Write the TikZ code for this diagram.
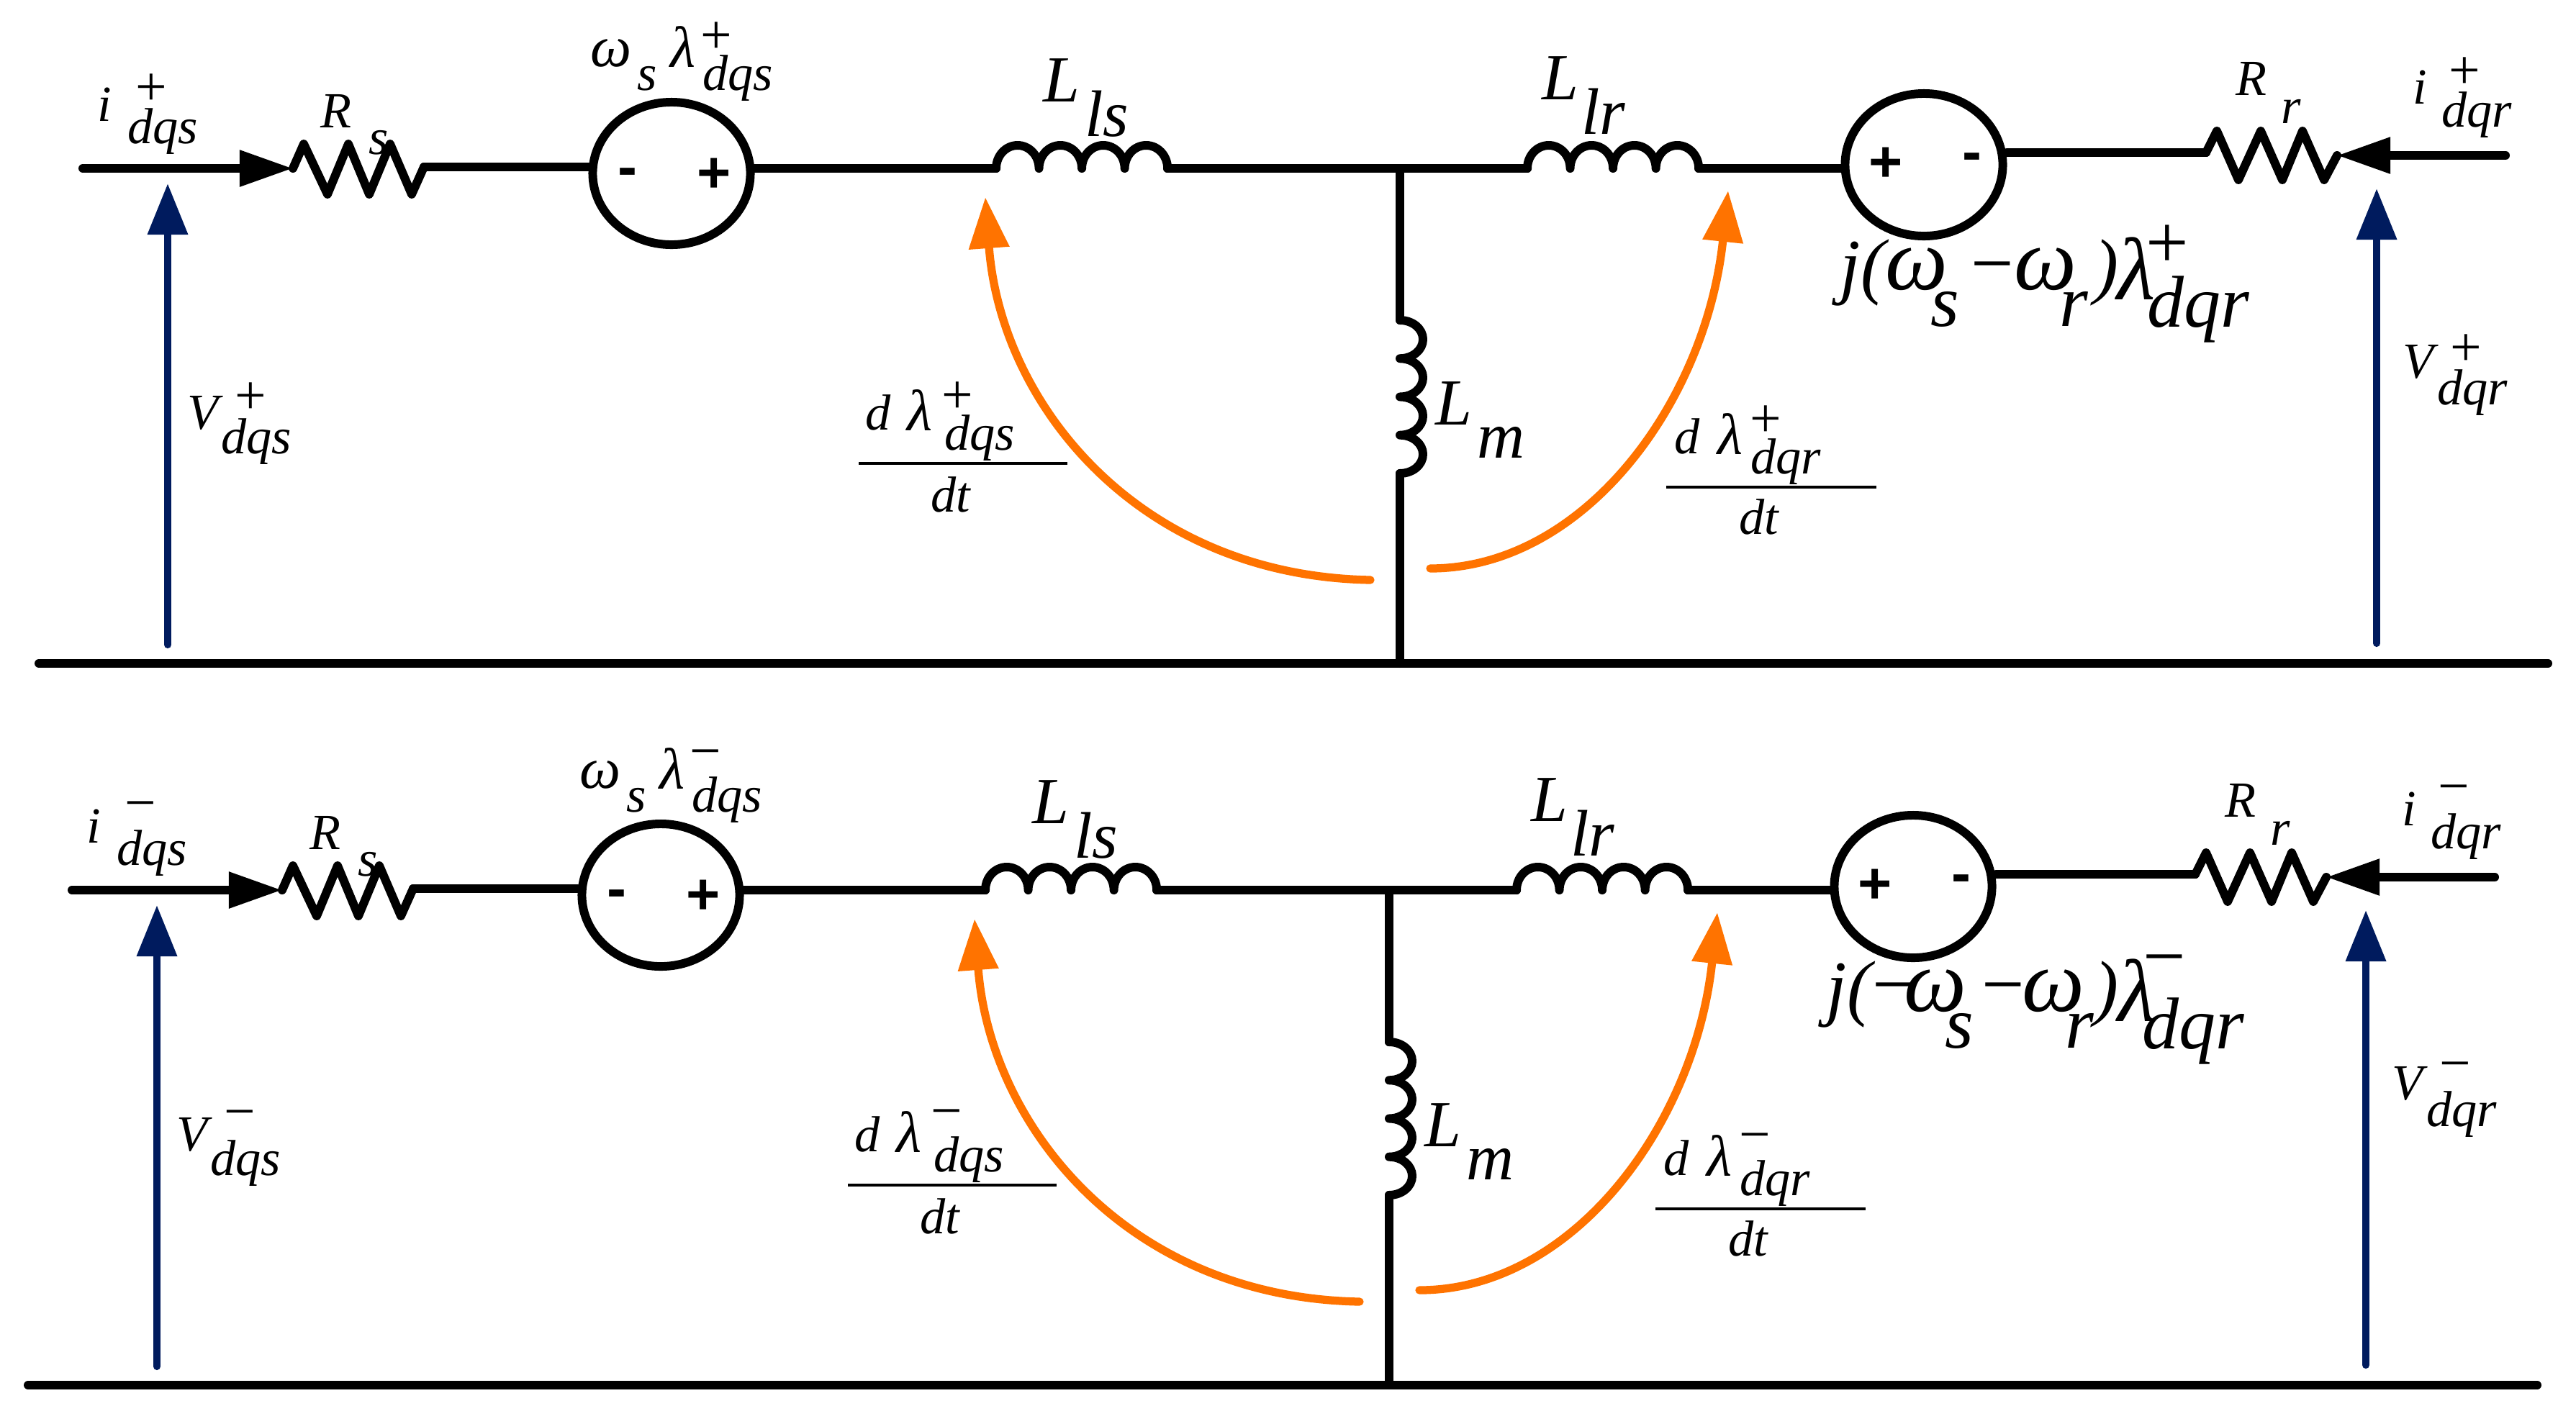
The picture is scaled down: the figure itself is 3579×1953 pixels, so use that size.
\documentclass[tikz,border=0pt]{standalone}
\usepackage{fontspec}
\setmainfont{Liberation Serif}
\setsansfont{Liberation Sans}
\usetikzlibrary{arrows.meta,shapes.geometric}
\definecolor{navy}{RGB}{0,27,94}
\definecolor{flame}{RGB}{255,115,0}
\tikzset{
  wire/.style={line width=3.4pt,line cap=round,line join=round},
  feed/.style={wire,-{Triangle[length=.74cm,width=.48cm]}},
  volt/.style={navy,line width=2.9pt,line cap=round,-{Triangle[length=.71cm,width=.54cm]}},
  flux/.style={flame,line width=3.2pt,line cap=round,-{Triangle[length=.71cm,width=.54cm]}},
  source/.style={ellipse,draw,line width=3.4pt,inner sep=0pt,minimum width=2.19cm,minimum height=1.98cm},
  small/.style={inner sep=0pt,font=\fontsize{20}{22}\selectfont\itshape},
  smallgreek/.style={inner sep=0pt,font=\fontsize{23}{25}\selectfont\itshape},
  mid/.style={inner sep=0pt,font=\fontsize{26}{28}\selectfont\itshape},
  big/.style={inner sep=0pt,font=\fontsize{29}{31}\selectfont\itshape},
  biggreek/.style={inner sep=0pt,font=\fontsize{35}{37}\selectfont\itshape},
  signlabel/.style={inner sep=0pt,yshift=-.05cm,font=\fontsize{22}{24}\selectfont},
  bigsign/.style={inner sep=0pt,yshift=-.07cm,font=\fontsize{30}{32}\selectfont},
  polarity/.style={inner sep=0pt,font=\fontsize{23}{25}\selectfont\sffamily\bfseries}
}
\newcommand{\halfcircuit}[1]{
  \coordinate (iin) at (115,234);
  \coordinate (Rsin) at (407,234);
  \coordinate (Rsout) at (589,232);
  \coordinate (Lsin) at (1384,234);
  \coordinate (Lsout) at (1622,234);
  \coordinate (jct) at (1945,234);
  \coordinate (Lrin) at (2122,234);
  \coordinate (Lrout) at (2360,234);
  \coordinate (Rrin) at (3065,212);
  \coordinate (Rrout) at (3247,216);
  \coordinate (irin) at (3481,216);
  \coordinate (Lmin) at (1945,445);
  \coordinate (Lmout) at (1945,658);
  \coordinate (gndl) at (54,922);
  \coordinate (gndm) at (1945,922);
  \coordinate (gndr) at (3540,922);
  \coordinate (vsa) at (233,896);
  \coordinate (vsb) at (233,255);
  \coordinate (vra) at (3302,894);
  \coordinate (vrb) at (3302,262);
  \coordinate (dsa) at (1904,806);
  \coordinate (dsb) at (1369,274);
  \coordinate (dra) at (1987,790);
  \coordinate (drb) at (2401,265);
  \node[source] (Es) at (933,241) {};
  \node[source] (Er) at (2673,229) {};
  \node[polarity] (Esm) at (872,247) {-};
  \node[polarity] (Esp) at (992,244) {+};
  \node[polarity] (Erp) at (2620,229) {+};
  \node[polarity] (Erm) at (2740,226) {-};
  \draw[feed] (iin) -- (Rsin);
  \draw[feed] (irin) -- (Rrout);
  \draw[wire] (Rsin) -- ++(15,-34) -- ++(33,70) -- ++(29,-70) -- ++(29,70) -- ++(29,-70) -- ++(30,70) -- (Rsout);
  \draw[wire] (Rrin) -- ++(15,-30) -- ++(30,68) -- ++(31,-68) -- ++(30,68) -- ++(28,-68) -- ++(30,68) -- (Rrout);
  \draw[wire] (Rsout) -- (Es.west |- Rsout);
  \draw[wire] (Es.east |- Lsin) -- (Lsin);
  \draw[wire] (Lsin) \foreach \k in {1,2,3,4} {arc[start angle=180,end angle=0,x radius=.2975cm,y radius=.32cm]};
  \draw[wire] (Lsout) -- (jct) -- (Lrin);
  \draw[wire] (Lrin) \foreach \k in {1,2,3,4} {arc[start angle=180,end angle=0,x radius=.2975cm,y radius=.32cm]};
  \draw[wire] (Lrout) -- (Er.west |- Lrout);
  \draw[wire] (Er.east |- Rrin) -- (Rrin);
  \draw[wire] (jct) -- (Lmin);
  \draw[wire] (Lmin) \foreach \k in {1,2,3,4} {arc[start angle=90,end angle=-90,x radius=.32cm,y radius=.266cm]};
  \draw[wire] (Lmout) -- (gndm);
  \draw[wire] (gndl) -- (gndr);
  \draw[volt] (vsa) -- (vsb);
  \draw[volt] (vra) -- (vrb);
  \draw[flux] (dsa) .. controls (1580,800) and (1390,560) .. (dsb);
  \draw[flux] (dra) .. controls (2200,790) and (2370,560) .. (drb);
  \node[small] (ilab) at (145,145) {i};
  \node[signlabel] (isign) at (210,120) {#1};
  \node[small] (isub) at (226,183) {dqs};
  \node[small] (Rslab) at (467,154) {R};
  \node[small] (Rssub) at (526,198) {s};
  \node[smallgreek] (wslab) at (849,74) {ω};
  \node[small] (wssub) at (899,109) {s};
  \node[smallgreek] (llab) at (949,65) {λ};
  \node[signlabel] (lsign) at (995,48) {#1};
  \node[small] (lsub) at (1025,109) {dqs};
  \node[small] (Vslab) at (282,574) {V};
  \node[signlabel] (Vssign) at (348,549) {#1};
  \node[small] (Vssub) at (356,614) {dqs};
  \node[mid] (Lslab) at (1475,112) {L};
  \node[mid] (Lssub) at (1538,158) {ls};
  \node[mid] (Lrlab) at (2168,109) {L};
  \node[mid] (Lrsub) at (2228,155) {lr};
  \node[mid] (Lmlab) at (2020,561) {L};
  \node[mid] (Lmsub) at (2085,615) {m};
  \node[small] (fsd) at (1220,573) {d};
  \node[smallgreek] (fsl) at (1278,570) {λ};
  \node[signlabel] (fssign) at (1330,548) {#1};
  \node[small] (fssub) at (1361,609) {dqs};
  \node[small] (fsdt) at (1321,687) {dt};
  \coordinate (fsa) at (1193,644);
  \coordinate (fsb) at (1483,644);
  \draw[line width=.9pt] (fsa) -- (fsb);
  \node[small] (frd) at (2344,606) {d};
  \node[smallgreek] (frl) at (2404,603) {λ};
  \node[signlabel] (frsign) at (2453,581) {#1};
  \node[small] (frsub) at (2481,642) {dqr};
  \node[small] (frdt) at (2444,718) {dt};
  \coordinate (fra) at (2315,677);
  \coordinate (frb) at (2607,677);
  \draw[line width=.9pt] (fra) -- (frb);
  \node[small] (Rrlab) at (3128,109) {R};
  \node[small] (Rrsub) at (3183,155) {r};
  \node[small] (irlab) at (3362,121) {i};
  \node[signlabel] (irsign) at (3424,97) {#1};
  \node[small] (irsub) at (3441,160) {dqr};
  \node[small] (Vrlab) at (3360,503) {V};
  \node[signlabel] (Vrsign) at (3426,482) {#1};
  \node[small] (Vrsub) at (3435,546) {dqr};
}

\begin{document}
\begin{tikzpicture}[x=.01cm,y=-.01cm]
  \useasboundingbox (0,0) rectangle (3579,1953);

  \begin{scope}[name prefix=top-]
    \halfcircuit{+}
    \node[big] (ja) at (2588,379) {j(};
    \node[biggreek] (jb) at (2663,374) {ω};
    \node[big] (jc) at (2702,430) {s};
    \node[bigsign] (jd) at (2768,376) {−};
    \node[biggreek] (je) at (2842,374) {ω};
    \node[big] (jf) at (2881,429) {r};
    \node[big] (jg) at (2926,379) {)};
    \node[biggreek] (jh) at (2968,373) {λ};
    \node[bigsign] (ji) at (3011,336) {+};
    \node[big] (jj) at (3054,430) {dqr};
  \end{scope}

  \begin{scope}[name prefix=bot-,shift={(-15,1003)}]
    \halfcircuit{−}
    \node[big] (ja) at (2584,379) {j(};
    \node[bigsign] (jb) at (2646,375) {−};
    \node[biggreek] (jc) at (2704,374) {ω};
    \node[big] (jd) at (2737,430) {s};
    \node[bigsign] (je) at (2798,375) {−};
    \node[biggreek] (jf) at (2868,374) {ω};
    \node[big] (jg) at (2904,429) {r};
    \node[big] (jh) at (2941,379) {)};
    \node[biggreek] (ji) at (2984,373) {λ};
    \node[bigsign] (jk) at (3022,336) {−};
    \node[big] (jl) at (3062,430) {dqr};
  \end{scope}
\end{tikzpicture}
\end{document}
